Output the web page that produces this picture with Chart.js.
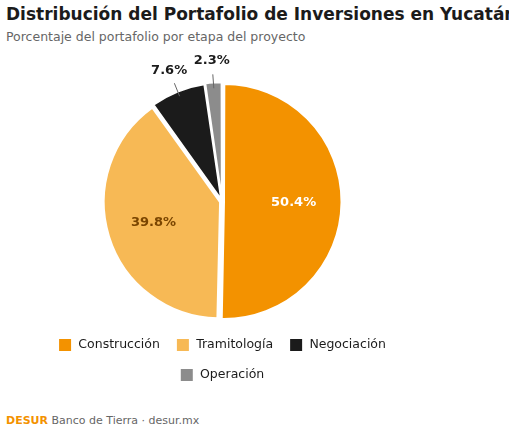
<!DOCTYPE html>
<html><head><meta charset="utf-8">
<script src="https://cdn.jsdelivr.net/npm/chart.js@4"></script>
<style>
body{margin:0;width:509px;height:432px;background:#fff;font-family:"DejaVu Sans",sans-serif;overflow:hidden;position:relative}
#t{position:absolute;left:6px;top:4px;font-size:17px;font-weight:bold;color:#1B1B1B;white-space:nowrap}
#s{position:absolute;left:6px;top:29px;font-size:12.5px;color:#666;white-space:nowrap}
#wrap{position:absolute;left:0;top:50px;width:509px;height:364px}
#foot{position:absolute;left:6px;top:414px;font-size:11px;color:#666}
#foot b{color:#F39200}
</style></head><body>
<div id="t">Distribución del Portafolio de Inversiones en Yucatán por Etapa</div>
<div id="s">Porcentaje del portafolio por etapa del proyecto</div>
<div id="wrap"><canvas id="c"></canvas></div>
<div id="foot"><b>DESUR</b> Banco de Tierra · desur.mx</div>
<script>
Chart.defaults.font.family='DejaVu Sans';
const categories=["Construcción","Tramitología","Negociación","Operación"];
const values=[50.4,39.8,7.6,2.3];
const colors=["#F39200","#F7B955","#1B1B1B","#8C8C8C"];
const labelColors=["#ffffff","#7a4500","#1B1B1B","#1B1B1B"];
const labelPlugin={id:'lbl',afterDatasetsDraw(chart){
 const ctx=chart.ctx;const meta=chart.getDatasetMeta(0);
 meta.data.forEach((arc,i)=>{
  const p=arc.getProps(['x','y','startAngle','endAngle','outerRadius'],true);
  const a=(p.startAngle+p.endAngle)/2;const txt=values[i].toFixed(1)+'%';
  ctx.save();ctx.font='bold 13px DejaVu Sans';ctx.textAlign='center';ctx.textBaseline='middle';
  if(values[i]>15){const r=p.outerRadius*0.62;ctx.fillStyle=labelColors[i];
   ctx.fillText(txt,p.x+Math.cos(a)*r,p.y+Math.sin(a)*r);}
  else{const r1=p.outerRadius-2,r2=p.outerRadius+12,r3=p.outerRadius+26;
   ctx.strokeStyle='#666';ctx.lineWidth=1;ctx.beginPath();
   ctx.moveTo(p.x+Math.cos(a)*r1,p.y+Math.sin(a)*r1);ctx.lineTo(p.x+Math.cos(a)*r2,p.y+Math.sin(a)*r2);ctx.stroke();
   ctx.fillStyle='#1B1B1B';ctx.fillText(txt,p.x+Math.cos(a)*r3,p.y+Math.sin(a)*r3);}
  ctx.restore();});
}};
new Chart(document.getElementById('c'),{type:'pie',
 data:{labels:categories,datasets:[{data:values,backgroundColor:colors,borderColor:'#fff',borderWidth:2,offset:8}]},
 options:{responsive:true,maintainAspectRatio:false,animation:false,
  layout:{padding:{left:0,right:65,top:31,bottom:22}},
  plugins:{tooltip:{enabled:false},title:{display:false},
   legend:{position:'bottom',labels:{boxWidth:14,boxHeight:14,padding:16,color:'#1B1B1B',font:{size:12.5}}}}},
 plugins:[labelPlugin]});
</script></body></html>
